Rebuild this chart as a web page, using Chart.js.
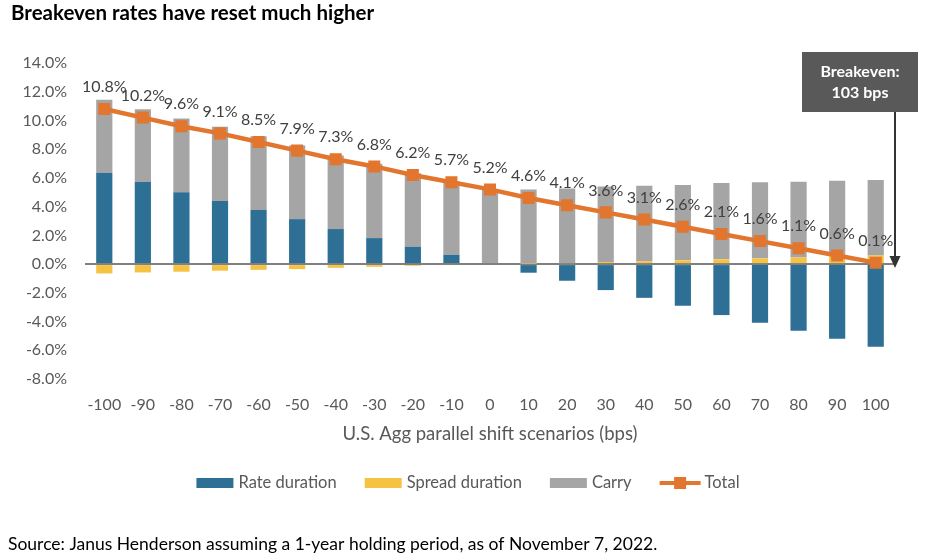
<!DOCTYPE html>
<html>
<head>
<meta charset="utf-8">
<script src="https://cdn.jsdelivr.net/npm/chart.js@4.4.1/dist/chart.umd.min.js"></script>
<style>
  html, body { margin: 0; padding: 0; background: #fff; }
  #wrap { position: relative; width: 950px; height: 560px; }
</style>
</head>
<body>
<div id="wrap"><canvas id="c" width="950" height="560"></canvas></div>
<script>
const categories = ['-100','-90','-80','-70','-60','-50','-40','-30','-20','-10','0','10','20','30','40','50','60','70','80','90','100'];
const rateDuration = [6.36,5.71,5.01,4.39,3.76,3.13,2.44,1.81,1.21,0.65,0,-0.60,-1.16,-1.81,-2.35,-2.90,-3.55,-4.09,-4.64,-5.20,-5.76];
const spreadDuration = [-0.65,-0.58,-0.53,-0.46,-0.40,-0.35,-0.26,-0.19,-0.12,-0.06,0,0.03,0.08,0.15,0.20,0.26,0.33,0.40,0.46,0.53,0.60];
const carry = [5.09,5.07,5.12,5.17,5.14,5.12,5.12,5.18,5.11,5.11,5.20,5.17,5.18,5.26,5.25,5.24,5.32,5.29,5.28,5.27,5.26];
const total = [10.8,10.2,9.6,9.1,8.5,7.9,7.3,6.8,6.2,5.7,5.2,4.6,4.1,3.6,3.1,2.6,2.1,1.6,1.1,0.6,0.1];
const yTicks = [-8,-6,-4,-2,0,2,4,6,8,10,12,14];
const seriesNames = ['Rate duration','Spread duration','Carry','Total'];
const titleText = 'Breakeven rates have reset much higher';
const axisTitle = 'U.S. Agg parallel shift scenarios (bps)';
const sourceText = 'Source: Janus Henderson assuming a 1-year holding period, as of November 7, 2022.';
const annotationLines = ['Breakeven:', '103 bps'];

const C_RATE = '#2E6F95', C_SPREAD = '#F5C242', C_CARRY = '#A5A5A5', C_TOTAL = '#E2762E';
const FONT = 'Lato, "Open Sans", sans-serif';

const extras = {
  id: 'extras',
  afterDatasetsDraw(chart) {
    const ctx = chart.ctx;
    const meta = chart.getDatasetMeta(3);
    ctx.save();
    ctx.font = '16px ' + FONT;
    ctx.fillStyle = '#404040';
    ctx.textAlign = 'center';
    ctx.textBaseline = 'middle';
    meta.data.forEach((pt, i) => {
      ctx.fillText(total[i].toFixed(1) + '%', pt.x, pt.y - 22);
    });
    ctx.restore();
  },
  afterDraw(chart) {
    const ctx = chart.ctx;
    const area = chart.chartArea;
    ctx.save();
    // title
    ctx.font = 'bold 20.5px ' + FONT;
    ctx.fillStyle = '#000';
    ctx.textAlign = 'left';
    ctx.textBaseline = 'middle';
    ctx.fillText(titleText, 11, 13);
    // source
    ctx.font = '17.5px ' + FONT;
    ctx.fillStyle = '#000';
    ctx.fillText(sourceText, 8, 544);
    // axis title
    ctx.font = '18.5px ' + FONT;
    ctx.fillStyle = '#595959';
    ctx.textAlign = 'center';
    ctx.fillText(axisTitle, (area.left + area.right) / 2, 434);

    // legend
    ctx.font = '16.5px ' + FONT;
    const boxW = 37, boxH = 10, gap = 5, itemGap = 28;
    const widths = seriesNames.map(n => ctx.measureText(n).width);
    let totalW = 0;
    widths.forEach((w, i) => { totalW += boxW + gap + w + (i < widths.length - 1 ? itemGap : 0); });
    let x = 466.5 - totalW / 2;
    const ly = 483;
    const colors = [C_RATE, C_SPREAD, C_CARRY, C_TOTAL];
    seriesNames.forEach((n, i) => {
      if (i < 3) {
        ctx.fillStyle = colors[i];
        ctx.fillRect(x, ly - boxH / 2, boxW, boxH);
      } else {
        ctx.strokeStyle = C_TOTAL;
        ctx.lineWidth = 4;
        ctx.beginPath();
        ctx.moveTo(x, ly);
        ctx.lineTo(x + boxW + 4, ly);
        ctx.stroke();
        ctx.fillStyle = C_TOTAL;
        ctx.fillRect(x + (boxW + 4) / 2 - 6, ly - 6, 12, 12);
      }
      ctx.fillStyle = '#595959';
      ctx.textAlign = 'left';
      ctx.fillText(n, x + boxW + gap + (i === 3 ? 3 : 0), ly);
      x += boxW + gap + widths[i] + itemGap;
    });

    // annotation box + arrow
    const y0 = chart.scales.y.getPixelForValue(0);
    const ax = area.right;
    ctx.fillStyle = '#595959';
    ctx.fillRect(802, 52, 116, 60);
    ctx.fillStyle = '#fff';
    ctx.font = 'bold 16px ' + FONT;
    ctx.textAlign = 'center';
    ctx.fillText(annotationLines[0], 860, 72);
    ctx.fillText(annotationLines[1], 860, 93);
    ctx.strokeStyle = '#333';
    ctx.lineWidth = 2;
    ctx.beginPath();
    ctx.moveTo(ax, 112);
    ctx.lineTo(ax, y0 - 8);
    ctx.stroke();
    ctx.fillStyle = '#333';
    ctx.beginPath();
    ctx.moveTo(ax - 5.5, y0 - 8);
    ctx.lineTo(ax + 5.5, y0 - 8);
    ctx.lineTo(ax, y0 + 4);
    ctx.closePath();
    ctx.fill();
    ctx.restore();
  }
};

new Chart(document.getElementById('c'), {
  type: 'bar',
  data: {
    labels: categories,
    datasets: [
      { label: seriesNames[0], data: rateDuration, backgroundColor: C_RATE, stack: 's', order: 1, barPercentage: 0.42, categoryPercentage: 1 },
      { label: seriesNames[1], data: spreadDuration, backgroundColor: C_SPREAD, stack: 's', order: 1, barPercentage: 0.42, categoryPercentage: 1 },
      { label: seriesNames[2], data: carry, backgroundColor: C_CARRY, stack: 's', order: 1, barPercentage: 0.42, categoryPercentage: 1 },
      { type: 'line', label: seriesNames[3], data: total, borderColor: C_TOTAL, backgroundColor: C_TOTAL, borderWidth: 4.5,
        pointStyle: 'rect', pointRadius: 8.5, pointHoverRadius: 8.5, pointBorderWidth: 0, stack: 't', order: 0, tension: 0 }
    ]
  },
  options: {
    responsive: false,
    animation: false,
    layout: { padding: { top: 63, left: 0, right: 55, bottom: 141 } },
    plugins: { legend: { display: false }, tooltip: { enabled: false } },
    scales: {
      x: {
        stacked: true,
        grid: { display: false, drawTicks: false },
        border: { display: false },
        ticks: { color: '#595959', font: { family: FONT, size: 16 }, padding: 16, maxRotation: 0, autoSkip: false },
        afterFit(scale) { scale.height = 40; }
      },
      y: {
        stacked: true,
        min: -8, max: 14,
        afterBuildTicks(scale) { scale.ticks = yTicks.map(v => ({ value: v })); },
        grid: {
          drawTicks: false,
          color: (c) => (c.tick && c.tick.value === 0 ? '#808080' : 'rgba(0,0,0,0)'),
          lineWidth: (c) => (c.tick && c.tick.value === 0 ? 2 : 0)
        },
        border: { display: false },
        ticks: { color: '#595959', font: { family: FONT, size: 16 }, padding: 18, callback: (v) => Number(v).toFixed(1) + '%' },
        afterFit(scale) { scale.width = 85; }
      }
    }
  },
  plugins: [extras]
});
</script>
</body>
</html>
